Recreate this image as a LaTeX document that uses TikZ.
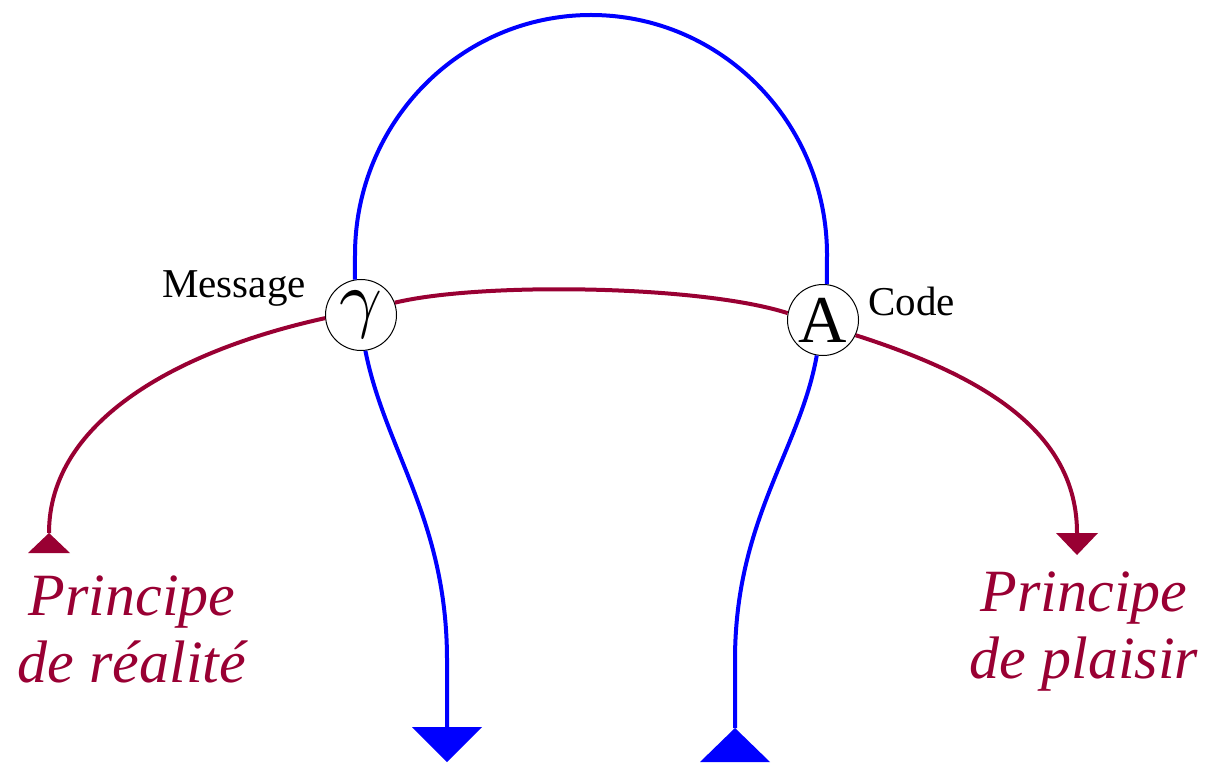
\documentclass[tikz,border=0pt]{standalone}
\usepackage{fontspec}
\setmainfont{Liberation Serif}
\usepackage{tikz}
\usetikzlibrary{
  arrows.meta,
  positioning,
  calc
}
\definecolor{lcWire}{HTML}{0000FF}
\definecolor{lcPrin}{HTML}{990033}
\tikzset{
  knot/.style={draw, circle, line width=1pt, minimum size=71pt, inner sep=0pt},
  bluewire/.style={draw=lcWire, line width=4pt},
  redwire/.style={draw=lcPrin, line width=4pt},
  bluetip/.style={fill=lcWire},
  redtip/.style={fill=lcPrin},
  tag/.style={font=\fontsize{41}{41}\selectfont, inner sep=0pt},
  principle/.style={font=\fontsize{60}{67}\selectfont\itshape, text=lcPrin, align=center, inner sep=0pt}
}

\begin{document}
\begin{tikzpicture}[x=1pt, y=-1pt]
  \useasboundingbox (0,0) rectangle (1214,767);

  \node[knot] (gam) at (361,315) {\scalebox{7.5}{$\gamma$}};
  \node[knot, font=\fontsize{67}{67}\selectfont] (cA) at (823,320) {A};
  \node[tag, anchor=base east] (msg) at (306,297) {Message};
  \node[tag, anchor=base west] (code) at (868,315) {Code};

  \coordinate (realite) at (49,533);
  \coordinate (plaisir) at (1077,533);
  \coordinate (down) at (447,727);
  \coordinate (up) at (735,728);

  % the loop over the top
  \draw[bluewire] (gam.100) -- (355,255)
    arc[start angle=180, end angle=360, x radius=236, y radius=240] -- (cA.84);
  \draw[bluewire] (gam.-83) .. controls (385,450) and (447,520) .. (447,660) -- (down);
  \draw[bluewire] (cA.-100) .. controls (800,450) and (735,520) .. (735,660) -- (up);
  \fill[bluetip] (down) ++(-35,0) -- ++(70,0) -- ++(-35,35) -- cycle;
  \fill[bluetip] (up) -- ++(35,34) -- ++(-70,0) -- cycle;

  % principles
  \draw[redwire] (gam.20) .. controls (480,282) and (700,285) .. (cA.169);
  \draw[redwire] (gam.185) .. controls (180,350) and (49,420) .. (realite);
  \draw[redwire] (cA.-25) .. controls (980,375) and (1077,430) .. (plaisir);
  \fill[redtip] (realite) -- ++(21,20) -- ++(-42,0) -- cycle;
  \fill[redtip] (plaisir) ++(-21,0) -- ++(42,0) -- ++(-21,22) -- cycle;

  \node[principle, anchor=north] (real) at (132,576) {Principe\\de réalité};
  \node[principle, anchor=north] (plai) at (1084,572) {Principe\\de plaisir};
\end{tikzpicture}
\end{document}
